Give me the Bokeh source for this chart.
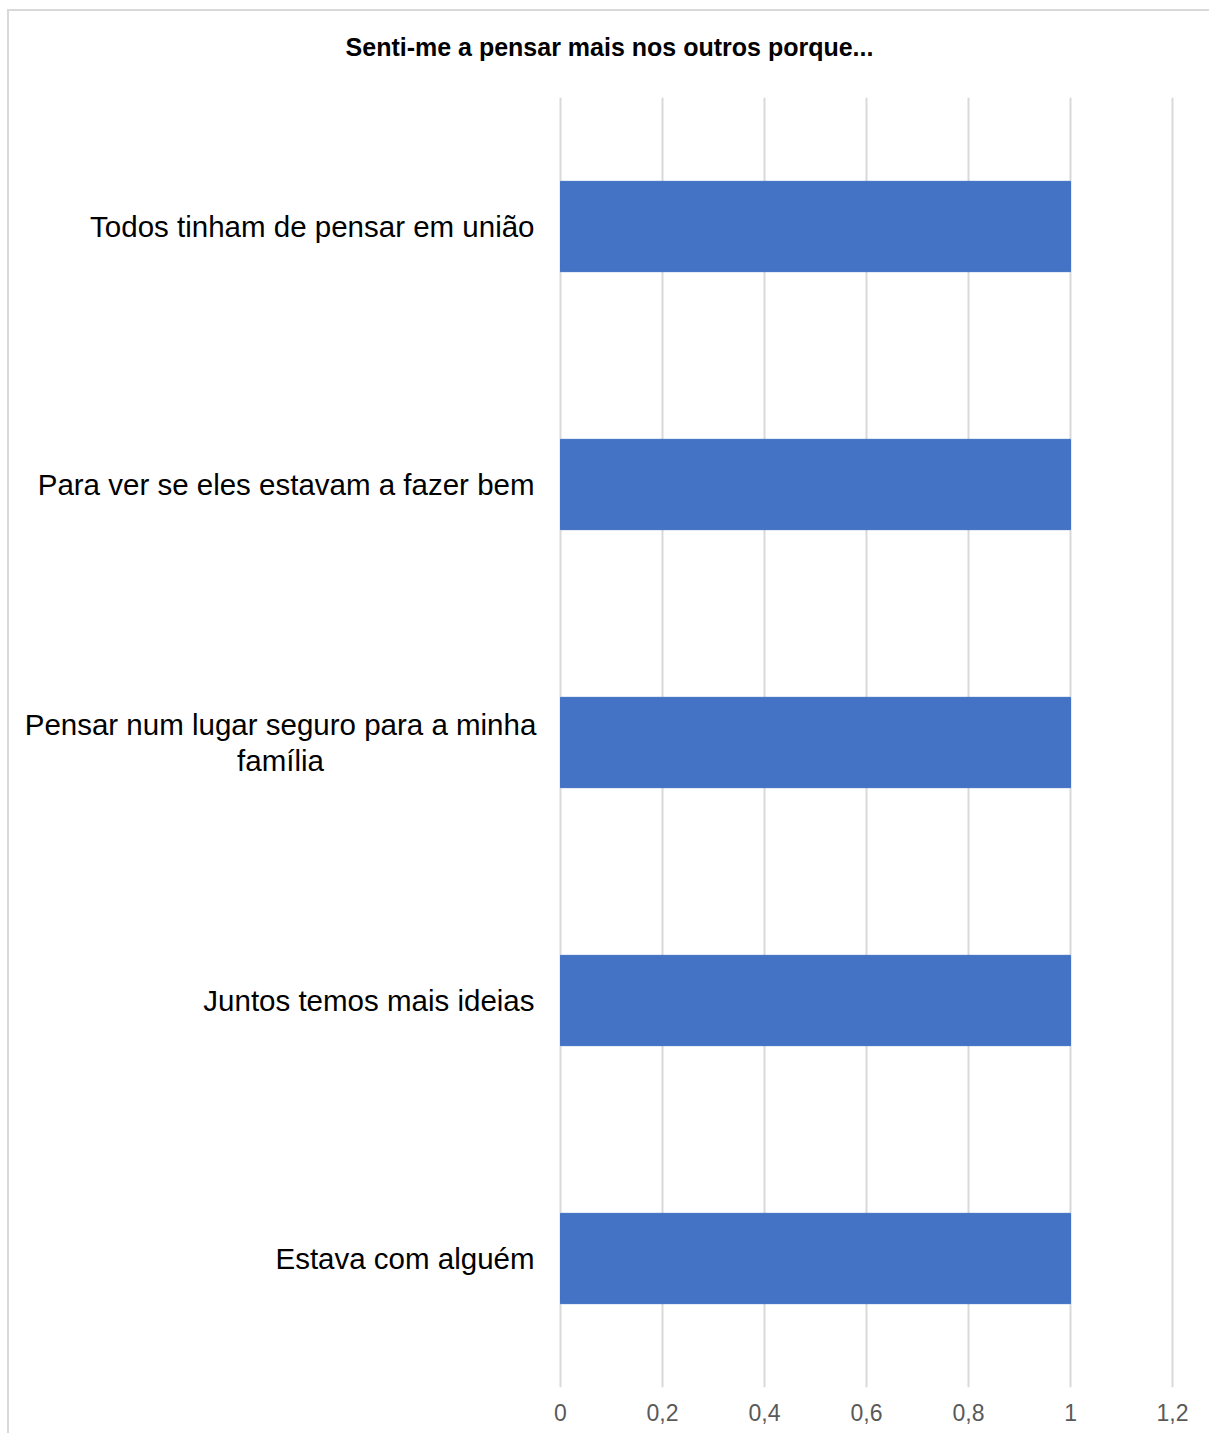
from bokeh.plotting import figure
from bokeh.models import FactorRange, Range1d, FixedTicker, CustomJSTickFormatter, Title
from bokeh.core.properties import value
from bokeh.embed import file_html
from bokeh.resources import INLINE

title_text = "Senti-me a pensar mais nos outros porque..."
categories = [
    "Todos tinham de pensar em união",
    "Para ver se eles estavam a fazer bem",
    "Pensar num lugar seguro para a minha\nfamília",
    "Juntos temos mais ideias",
    "Estava com alguém",
]
values = [1, 1, 1, 1, 1]
x_ticks = [0, 0.2, 0.4, 0.6, 0.8, 1.0, 1.2]

factors = list(reversed(categories))

# the frame spans the whole chart width so the category texts can sit left of 0
X_START, X_END = -1.0804, 1.2725

p = figure(
    y_range=FactorRange(*factors, range_padding=0),
    x_range=Range1d(X_START, X_END),
    frame_width=1200, frame_height=1290,
    min_border_left=0, min_border_right=0, min_border_top=86, min_border_bottom=46,
    output_backend="svg", toolbar_location=None,
    styles={"margin-left": "7px", "margin-top": "9px",
            "border-top": "2px solid #d9d9d9", "border-left": "2px solid #d9d9d9"},
)
p.outline_line_color = None
p.background_fill_color = "white"

p.hbar(y=categories, left=0, right=values, height=0.35, color="#4472C4")

# category labels drawn next to the bars
single = [c for c in categories if "\n" not in c]
multi = [c for c in categories if "\n" in c]
p.text(x=[0] * len(single), y=single, text=single, x_offset=-26,
       text_align="right", text_baseline="middle",
       text_font=value("Liberation Sans"), text_font_size="29.5px", text_color="#000000")
p.text(x=[0] * len(multi), y=multi, text=multi, x_offset=-280,
       text_align="center", text_baseline="middle", text_line_height=1.12,
       text_font=value("Liberation Sans"), text_font_size="29.5px", text_color="#000000")

# spacer between title and plot area, then the title itself
spacer = Title(text=" ", text_font="Liberation Sans", text_font_size="10px", standoff=24)
p.add_layout(spacer, "above")
t = Title(text=title_text, align="center", vertical_align="bottom",
          text_font="Liberation Sans", text_font_size="25px", text_font_style="bold",
          text_color="#000000", standoff=0)
p.add_layout(t, "above")

p.xaxis.ticker = FixedTicker(ticks=x_ticks)
p.xaxis.formatter = CustomJSTickFormatter(code="return String(Math.round(tick*10)/10).replace('.', ',');")
p.xaxis.axis_line_color = None
p.xaxis.major_tick_line_color = None
p.xaxis.minor_tick_line_color = None
p.xaxis.major_label_text_font = "Liberation Sans"
p.xaxis.major_label_text_font_size = "23px"
p.xaxis.major_label_text_color = "#595959"
p.xaxis.major_label_standoff = 10

p.yaxis.visible = False

p.xgrid.ticker = FixedTicker(ticks=x_ticks)
p.xgrid.grid_line_color = "#d9d9d9"
p.xgrid.grid_line_width = 2
p.ygrid.grid_line_color = None

open("out.html", "w").write(file_html(p, INLINE))
